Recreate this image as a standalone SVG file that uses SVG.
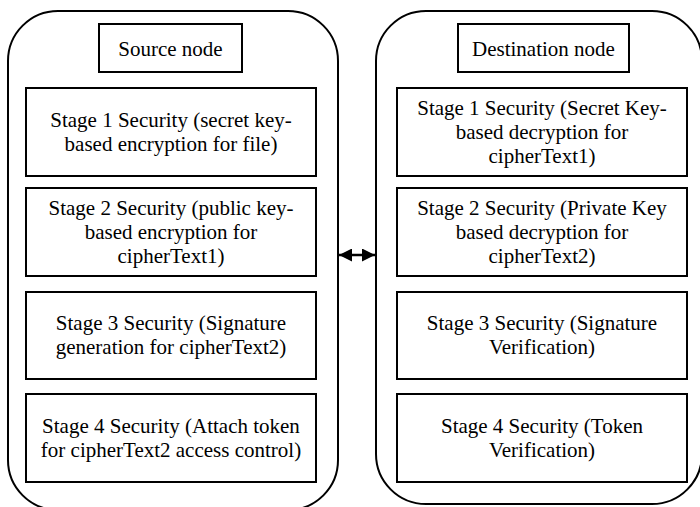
<svg xmlns="http://www.w3.org/2000/svg" width="700" height="507" viewBox="0 0 700 507">
<defs>
<style>
.container{fill:#fff;stroke:#000;stroke-width:2}
.box{fill:#fff;stroke:#000;stroke-width:2}
.conn{stroke:#000;stroke-width:2.5;fill:none}
</style>
<marker id="ah" viewBox="0 0 13 13" refX="13" refY="6.5" markerWidth="13" markerHeight="13" markerUnits="userSpaceOnUse" orient="auto-start-reverse">
<path d="M0,0 L13,6.5 L0,13 Z" fill="#000"/>
</marker>
</defs>
<rect width="700" height="507" fill="#fff"/>
<g id="source-node">
<rect class="container" x="8" y="11" width="330" height="499" rx="50" ry="50"/>
<g id="source-title">
<rect class="box" x="99" y="24" width="143" height="48"/>
<text x="170.5" y="56" font-family="Liberation Serif" font-size="21" text-anchor="middle">Source node</text>
</g>
<g id="source-stage1">
<rect class="box" x="26" y="88" width="290" height="88"/>
<text x="171" y="127" font-family="Liberation Serif" font-size="21" text-anchor="middle">Stage 1 Security (secret key-</text>
<text x="171" y="151" font-family="Liberation Serif" font-size="21" text-anchor="middle">based encryption for file)</text>
</g>
<g id="source-stage2">
<rect class="box" x="26" y="188" width="290" height="88"/>
<text x="171" y="215" font-family="Liberation Serif" font-size="21" text-anchor="middle">Stage 2 Security (public key-</text>
<text x="171" y="239" font-family="Liberation Serif" font-size="21" text-anchor="middle">based encryption for</text>
<text x="171" y="263" font-family="Liberation Serif" font-size="21" text-anchor="middle">cipherText1)</text>
</g>
<g id="source-stage3">
<rect class="box" x="26" y="292" width="290" height="87"/>
<text x="171" y="330" font-family="Liberation Serif" font-size="21" text-anchor="middle">Stage 3 Security (Signature</text>
<text x="171" y="354" font-family="Liberation Serif" font-size="21" text-anchor="middle">generation for cipherText2)</text>
</g>
<g id="source-stage4">
<rect class="box" x="26" y="394" width="290" height="88"/>
<text x="171" y="433" font-family="Liberation Serif" font-size="21" text-anchor="middle">Stage 4 Security (Attach token</text>
<text x="171" y="457" font-family="Liberation Serif" font-size="21" text-anchor="middle">for cipherText2 access control)</text>
</g>
</g>
<g id="destination-node">
<rect class="container" x="376" y="11" width="326" height="493" rx="50" ry="50"/>
<g id="destination-title">
<rect class="box" x="458" y="24" width="171" height="48"/>
<text x="543.5" y="56" font-family="Liberation Serif" font-size="21" text-anchor="middle">Destination node</text>
</g>
<g id="destination-stage1">
<rect class="box" x="397" y="88" width="290" height="88"/>
<text x="542" y="115" font-family="Liberation Serif" font-size="21" text-anchor="middle">Stage 1 Security (Secret Key-</text>
<text x="542" y="139" font-family="Liberation Serif" font-size="21" text-anchor="middle">based decryption for</text>
<text x="542" y="163" font-family="Liberation Serif" font-size="21" text-anchor="middle">cipherText1)</text>
</g>
<g id="destination-stage2">
<rect class="box" x="397" y="188" width="290" height="88"/>
<text x="542" y="215" font-family="Liberation Serif" font-size="21" text-anchor="middle">Stage 2 Security (Private Key</text>
<text x="542" y="239" font-family="Liberation Serif" font-size="21" text-anchor="middle">based decryption for</text>
<text x="542" y="263" font-family="Liberation Serif" font-size="21" text-anchor="middle">cipherText2)</text>
</g>
<g id="destination-stage3">
<rect class="box" x="397" y="292" width="290" height="87"/>
<text x="542" y="330" font-family="Liberation Serif" font-size="21" text-anchor="middle">Stage 3 Security (Signature</text>
<text x="542" y="354" font-family="Liberation Serif" font-size="21" text-anchor="middle">Verification)</text>
</g>
<g id="destination-stage4">
<rect class="box" x="397" y="394" width="290" height="88"/>
<text x="542" y="433" font-family="Liberation Serif" font-size="21" text-anchor="middle">Stage 4 Security (Token</text>
<text x="542" y="457" font-family="Liberation Serif" font-size="21" text-anchor="middle">Verification)</text>
</g>
</g>
<g id="connectors">
<line class="conn" x1="339" y1="255" x2="375" y2="255" marker-start="url(#ah)" marker-end="url(#ah)"/>
</g>
</svg>
